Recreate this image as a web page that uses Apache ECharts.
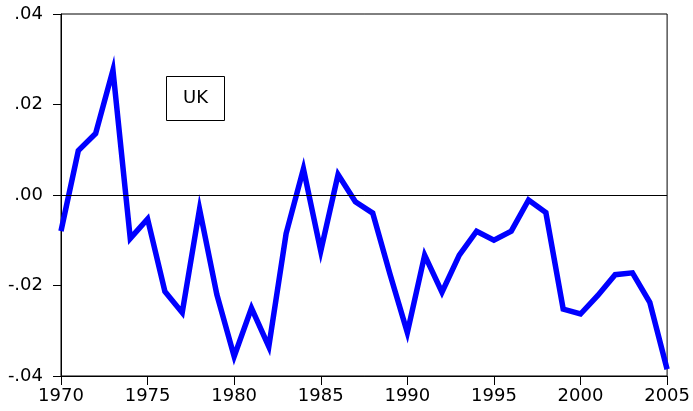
<!DOCTYPE html>
<html>
<head>
<meta charset="utf-8">
<script src="https://cdn.jsdelivr.net/npm/echarts@6/dist/echarts.min.js"></script>
<style>
  html, body { margin: 0; padding: 0; background: #fff; }
  #chart { width: 693px; height: 411px; }
</style>
</head>
<body>
<div id="chart"></div>
<script>
// years and the UK series
var years = [1970, 1971, 1972, 1973, 1974, 1975, 1976, 1977, 1978, 1979,
             1980, 1981, 1982, 1983, 1984, 1985, 1986, 1987, 1988, 1989,
             1990, 1991, 1992, 1993, 1994, 1995, 1996, 1997, 1998, 1999,
             2000, 2001, 2002, 2003, 2004, 2005];
var ukValues = [-0.0080, 0.0098, 0.0136, 0.0276, -0.0096, -0.0053, -0.0213, -0.0260, -0.0031, -0.0220,
                -0.0357, -0.0250, -0.0335, -0.0085, 0.0058, -0.0124, 0.0045, -0.0015, -0.0040, -0.0175,
                -0.0304, -0.0133, -0.0215, -0.0133, -0.0080, -0.0100, -0.0080, -0.0011, -0.0039, -0.0252,
                -0.0263, -0.0222, -0.0176, -0.0172, -0.0237, -0.0385];
// tick labels for the y axis
var yTickLabels = {'0.04': '.04', '0.02': '.02', '0': '.00', '-0.02': '-.02', '-0.04': '-.04'};
var seriesLabel = 'UK';

var chart = echarts.init(document.getElementById('chart'));

var points = [];
for (var i = 0; i < years.length; i++) {
    points.push([years[i], ukValues[i]]);
}

var labelFont = {
    color: '#000',
    fontFamily: 'DejaVu Sans, sans-serif',
    fontSize: 18
};

chart.setOption({
    animation: false,
    backgroundColor: '#fff',
    grid: {
        left: 61,
        right: 24,
        top: 14,
        bottom: 35,
        show: true,
        borderColor: '#000',
        borderWidth: 1
    },
    xAxis: {
        type: 'value',
        min: 1970,
        max: 2005,
        interval: 5,
        axisLine: { show: true, onZero: false, lineStyle: { color: '#000', width: 1 } },
        axisTick: { show: true, inside: false, length: 9, lineStyle: { color: '#000' } },
        splitLine: { show: false },
        axisLabel: Object.assign({ margin: 11, formatter: function (v) { return String(v); } }, labelFont)
    },
    yAxis: {
        type: 'value',
        min: -0.04,
        max: 0.04,
        interval: 0.02,
        axisLine: { show: true, onZero: false, lineStyle: { color: '#000', width: 1 } },
        axisTick: { show: true, inside: false, length: 8, lineStyle: { color: '#000' } },
        splitLine: { show: false },
        axisLabel: Object.assign({
            margin: 18,
            formatter: function (v) {
                var key = String(Math.round(v * 100) / 100);
                return yTickLabels[key] !== undefined ? yTickLabels[key] : key;
            }
        }, labelFont)
    },
    graphic: [{
        type: 'group',
        left: 166,
        top: 76,
        children: [{
            type: 'rect',
            shape: { x: 0, y: 0, width: 58, height: 44 },
            style: { fill: '#fff', stroke: '#000', lineWidth: 1 }
        }, {
            type: 'text',
            x: 29,
            y: 22,
            style: {
                text: seriesLabel,
                fill: '#000',
                font: '18px "DejaVu Sans", sans-serif',
                align: 'center',
                verticalAlign: 'middle'
            }
        }]
    }],
    series: [{
        type: 'line',
        data: points,
        showSymbol: false,
        lineStyle: { color: '#0000ff', width: 5.5, join: 'miter' },
        itemStyle: { color: '#0000ff' },
        markLine: {
            silent: true,
            symbol: 'none',
            label: { show: false },
            lineStyle: { color: '#000', width: 1, type: 'solid' },
            data: [{ yAxis: 0 }]
        }
    }]
});
</script>
</body>
</html>
